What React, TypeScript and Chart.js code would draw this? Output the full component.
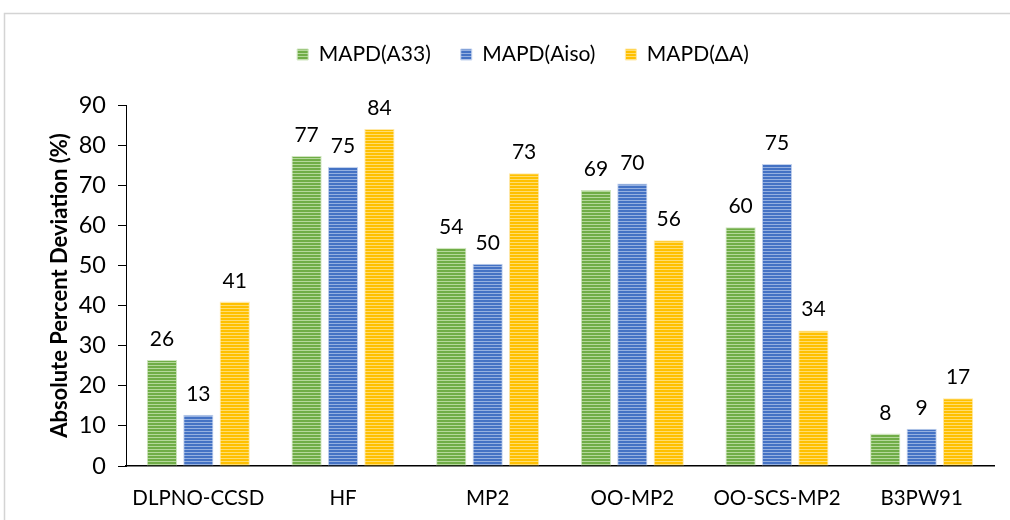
import React, { useEffect, useRef } from "react";
import { Chart, registerables } from "chart.js";

Chart.register(...registerables);

const categories = ["DLPNO-CCSD", "HF", "MP2", "OO-MP2", "OO-SCS-MP2", "B3PW91"];
const seriesNames = ["MAPD(A33)", "MAPD(Aiso)", "MAPD(ΔA)"];
const a33 = [26.4, 77.3, 54.4, 68.8, 59.5, 8.1];
const aiso = [12.8, 74.6, 50.4, 70.4, 75.3, 9.3];
const deltaA = [41.0, 84.0, 73.0, 56.3, 33.8, 16.9];
const yTicks = [0, 10, 20, 30, 40, 50, 60, 70, 80, 90];

const FONT = "Lato, 'Open Sans', sans-serif";

function stripe(dark: string, light: string): CanvasPattern | string {
  const c = document.createElement("canvas");
  c.width = 4;
  c.height = 3;
  const g = c.getContext("2d");
  if (!g) return dark;
  g.fillStyle = dark;
  g.fillRect(0, 0, 4, 3);
  g.fillStyle = light;
  g.fillRect(0, 2, 4, 1);
  const p = g.createPattern(c, "repeat");
  return p || dark;
}

const labelPlugin = {
  id: "barLabels",
  afterDatasetsDraw(chart: any) {
    const ctx = chart.ctx;
    ctx.save();
    ctx.font = `21px ${FONT}`;
    ctx.fillStyle = "#000";
    ctx.textAlign = "center";
    ctx.textBaseline = "alphabetic";
    chart.data.datasets.forEach((ds: any, i: number) => {
      const meta = chart.getDatasetMeta(i);
      meta.data.forEach((el: any, j: number) => {
        ctx.fillText(String(Math.round(ds.data[j])), el.x, el.y - 14);
      });
    });
    ctx.restore();
  },
};

const framePlugin = {
  id: "frame",
  afterInit(chart: any) {
    const lg = chart.legend;
    if (lg && !lg.__patched) {
      const orig = lg.fit.bind(lg);
      lg.fit = function () {
        orig();
        this.height += 30;
      };
      lg.__patched = true;
    }
  },
  afterLayout(chart: any) {
    if (chart.legend) chart.legend.left += 52;
  },
  beforeDraw(chart: any) {
    const ctx = chart.ctx;
    ctx.save();
    ctx.fillStyle = "#fff";
    ctx.fillRect(0, 0, chart.width, chart.height);
    ctx.strokeStyle = "#d4d4d4";
    ctx.lineWidth = 1.5;
    ctx.strokeRect(4.5, 13.5, chart.width + 20, chart.height + 20);
    ctx.restore();
  },
};

export default function App() {
  const ref = useRef<HTMLCanvasElement | null>(null);
  useEffect(() => {
    if (!ref.current) return;
    const green = stripe("#70AD47", "#B4D89A");
    const blue = stripe("#4472C4", "#95B0E0");
    const yellow = stripe("#FFC000", "#FFDD70");
    const common = { barPercentage: 0.83, categoryPercentage: 0.755, borderWidth: 1 };
    const chart = new Chart(ref.current, {
      type: "bar",
      data: {
        labels: categories,
        datasets: [
          { label: seriesNames[0], data: a33, backgroundColor: green, borderColor: "#CFE5BF", ...common },
          { label: seriesNames[1], data: aiso, backgroundColor: blue, borderColor: "#C4D3EE", ...common },
          { label: seriesNames[2], data: deltaA, backgroundColor: yellow, borderColor: "#FFE9A8", ...common },
        ],
      },
      options: {
        animation: false,
        responsive: false,
        layout: { padding: { top: 14, right: 16, left: 0, bottom: 0 } },
        plugins: {
          legend: {
            position: "top",
            labels: {
              font: { family: FONT, size: 21 },
              color: "#000",
              boxWidth: 11,
              boxHeight: 11,
              padding: 30,
            },
          },
          tooltip: { enabled: false },
        },
        scales: {
          x: {
            grid: { display: true, drawOnChartArea: false, drawTicks: false },
            border: { display: true, color: "#000", width: 1.5 },
            ticks: { font: { family: FONT, size: 20.5 }, color: "#000", padding: 20 },
            afterFit(scale: any) {
              scale.height = 54;
            },
          },
          y: {
            min: 0,
            max: 90,
            afterBuildTicks(scale: any) {
              scale.ticks = yTicks.map((v) => ({ value: v }));
            },
            grid: { display: true, drawOnChartArea: false, drawTicks: true, tickLength: 8, tickColor: "#000" },
            border: { display: true, color: "#000", width: 1 },
            ticks: { font: { family: FONT, size: 23.5 }, color: "#000", padding: 12 },
            title: {
              display: true,
              text: "Absolute Percent Deviation (%)",
              font: { family: FONT, size: 22, weight: "bold" },
              color: "#000",
              padding: { top: 47, bottom: 0 },
            },
            afterFit(scale: any) {
              scale.width = 126;
            },
          },
        },
      },
      plugins: [labelPlugin, framePlugin],
    } as any);
    return () => chart.destroy();
  }, []);
  return (
    <div style={{ position: "absolute", left: 0, top: 0, width: 1010, height: 520 }}>
      <canvas ref={ref} width={1010} height={520} style={{ display: "block" }} />
    </div>
  );
}
